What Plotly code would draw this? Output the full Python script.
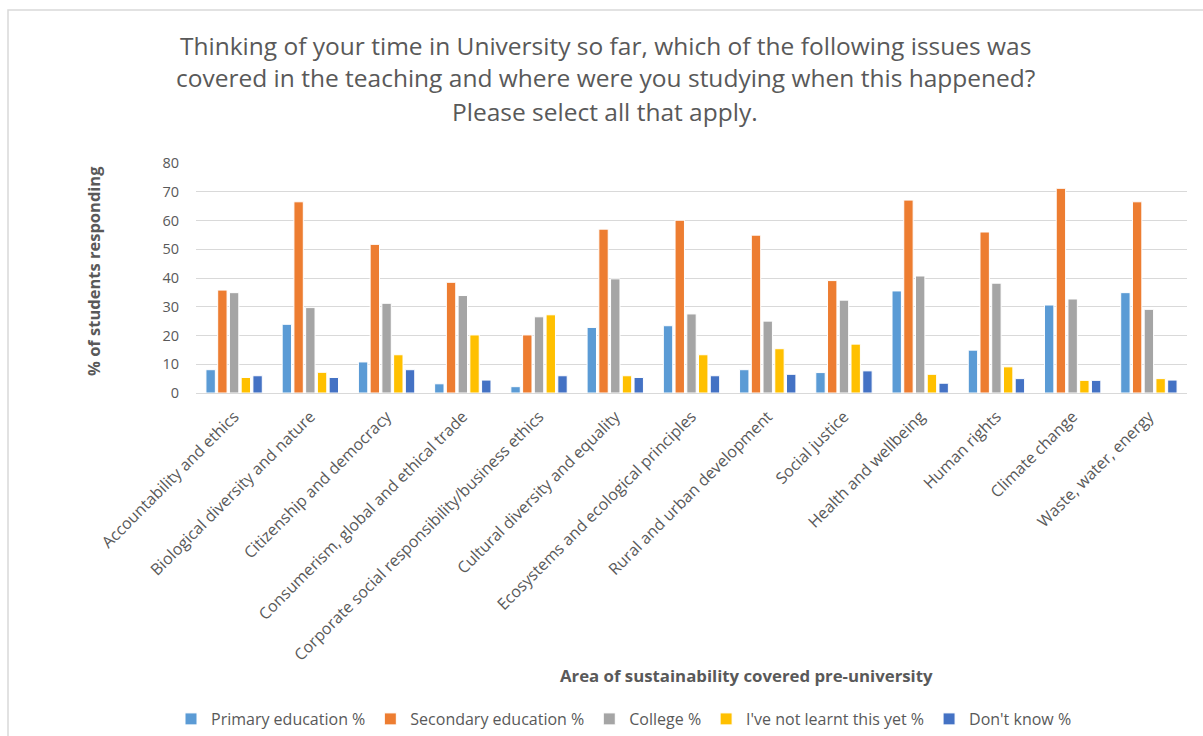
import plotly.graph_objects as go

categories = [
    "Accountability and ethics",
    "Biological diversity and nature",
    "Citizenship and democracy",
    "Consumerism, global and ethical trade",
    "Corporate social responsibility/business ethics",
    "Cultural diversity and equality",
    "Ecosystems and ecological principles",
    "Rural and urban development",
    "Social justice",
    "Health and wellbeing",
    "Human rights",
    "Climate change",
    "Waste, water, energy",
]

primary = [8.1, 23.9, 10.8, 3.2, 2.2, 22.8, 23.4, 8.1, 7.1, 35.5, 14.9, 30.6, 34.9]
secondary = [35.8, 66.5, 51.7, 38.5, 20.2, 57.0, 60.1, 54.9, 39.1, 67.1, 56.0, 71.2, 66.5]
college = [34.9, 29.7, 31.2, 33.9, 26.5, 39.7, 27.5, 25.0, 32.3, 40.7, 38.2, 32.7, 29.1]
not_yet = [5.4, 7.2, 13.3, 20.2, 27.2, 6.0, 13.3, 15.4, 17.0, 6.5, 9.1, 4.4, 5.0]
dont_know = [6.0, 5.4, 8.1, 4.5, 6.0, 5.4, 6.0, 6.5, 7.7, 3.4, 5.0, 4.4, 4.5]

series_names = ["Primary education %", "Secondary education %", "College %",
                "I've not learnt this yet %", "Don't know %"]
series_values = [primary, secondary, college, not_yet, dont_know]
colors = ["#5B9BD5", "#ED7D31", "#A5A5A5", "#FFC000", "#4472C4"]

title_lines = [
    "Thinking of your time in University so far, which of the following issues was",
    "covered in the teaching and where were you studying when this happened?",
    "Please select all that apply.",
]

W, H = 1203, 736
L, R, T, B = 196, 1187, 163, 393
FONT = "Open Sans"
GREY = "#595959"

def px(x):
    return (x - L) / (R - L)

def py(y):
    return (B - y) / (B - T)

fig = go.Figure()
for name, vals, col in zip(series_names, series_values, colors):
    fig.add_trace(go.Bar(
        x=categories, y=vals, name=name,
        marker=dict(color=col, line=dict(color="white", width=1)),
    ))

annotations = []
title_y = [45, 78, 111]
for line, yy in zip(title_lines, title_y):
    annotations.append(dict(
        text=line, x=px(605), y=py(yy), xref="paper", yref="paper",
        xanchor="center", yanchor="middle", showarrow=False,
        font=dict(family=FONT, size=24.5, color=GREY),
    ))
annotations.append(dict(
    text="<b>% of students responding</b>", x=px(93), y=py(271),
    xref="paper", yref="paper", xanchor="center", yanchor="middle",
    textangle=-90, showarrow=False,
    font=dict(family=FONT, size=16.5, color=GREY),
))
annotations.append(dict(
    text="<b>Area of sustainability covered pre-university</b>", x=px(746), y=py(675),
    xref="paper", yref="paper", xanchor="center", yanchor="middle",
    showarrow=False, font=dict(family=FONT, size=16.8, color=GREY),
))

fig.update_layout(
    width=W, height=H,
    margin=dict(l=L, r=W - R, t=T, b=H - B, pad=0, autoexpand=False),
    paper_bgcolor="white", plot_bgcolor="white",
    barmode="group", bargap=0.23, bargroupgap=0.2,
    showlegend=True,
    legend=dict(
        orientation="h", x=px(624), xanchor="center", y=py(719), yanchor="middle",
        font=dict(family=FONT, size=16, color=GREY),
        itemwidth=30, traceorder="normal",
    ),
    annotations=annotations,
    shapes=[dict(
        type="rect", xref="paper", yref="paper",
        x0=px(8), x1=px(1210), y0=py(10), y1=py(760),
        line=dict(color="#D9D9D9", width=1.5), fillcolor="rgba(0,0,0,0)", layer="below",
    )],
)
fig.update_yaxes(
    range=[0, 80], dtick=10, showgrid=True, gridcolor="#D9D9D9", gridwidth=1,
    zeroline=False, showline=False, ticks="",
    tickfont=dict(family=FONT, size=14.5, color=GREY), ticklabelstandoff=16,
)
fig.update_xaxes(
    showgrid=False, showline=True, linecolor="#D9D9D9", linewidth=1, ticks="",
    tickangle=-45, tickfont=dict(family=FONT, size=16, color=GREY),
    ticklabelstandoff=7,
)

fig.write_html("out.html")
